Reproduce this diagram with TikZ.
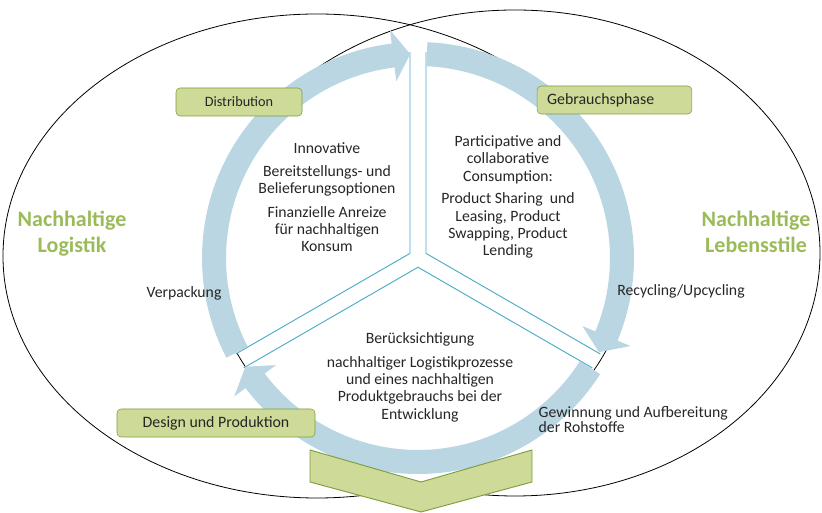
\documentclass[tikz,border=0pt]{standalone}
\usepackage{fontspec}
\setmainfont{Carlito}
\usepackage{xcolor}
\usetikzlibrary{calc}
\usetikzlibrary{positioning}

\definecolor{ringblue}{HTML}{B9D6E2}
\definecolor{sectorline}{HTML}{4BACC6}
\definecolor{boxgreen}{HTML}{CDDA98}
\definecolor{boxborder}{HTML}{7F9C3F}
\definecolor{titlegreen}{HTML}{9BBB59}
\definecolor{textgray}{HTML}{262626}

\tikzset{
	phase/.style={draw=boxborder,fill=boxgreen,rounded corners=3pt,minimum height=21pt,inner sep=0pt,font=\fontsize{11.9}{13}\selectfont,text=textgray},
	sectortext/.style={align=center,font=\fontsize{11.8}{13}\selectfont,text=textgray},
	sidelabel/.style={font=\fontsize{11.8}{11.4}\selectfont,text=textgray},
	bigtitle/.style={align=center,font=\fontsize{16.5}{19.5}\selectfont\bfseries,text=titlegreen},
	sector/.style={draw=sectorline,fill=white,line width=0.7pt},
}

\begin{document}
\begin{tikzpicture}[x=0.75pt,y=0.75pt]
	\useasboundingbox (0,0) rectangle (822,513);
	\coordinate (c) at (418,255);
	
	% the two fields
	\draw[line width=0.6pt] (317,257) ellipse [x radius=314,y radius=242];
	\draw[line width=0.6pt] (515,260) ellipse [x radius=305,y radius=243];
	
	% three sectors
	\begin{scope}
		\clip (c) circle [radius=206];
		\coordinate (l) at ($(c)+(150:9.24)$);
		\coordinate (r) at ($(c)+(30:9.24)$);
		\coordinate (b) at ($(c)+(270:9.24)$);
		\filldraw[sector] (l) -- ($(l)+(90:300)$) -- ($(l)+(150:300)$) -- ($(l)+(210:300)$) -- cycle;
		\filldraw[sector] (r) -- ($(r)+(90:300)$) -- ($(r)+(30:300)$) -- ($(r)+(-30:300)$) -- cycle;
		\filldraw[sector] (b) -- ($(b)+(210:300)$) -- ($(b)+(270:300)$) -- ($(b)+(330:300)$) -- cycle;
	\end{scope}
	
	% ring arrows
	\fill[ringblue] ($(c)+(207.5:216)$) arc[start angle=207.5,end angle=97,radius=216] -- ($(c)+(97:230)$) -- ($(c)+(92.2:204)$) -- ($(c)+(97:178)$) -- ($(c)+(97:192)$) arc[start angle=97,end angle=207.5,radius=192] -- cycle;
	\fill[ringblue] ($(c)+(87.5:216)$) arc[start angle=87.5,end angle=-22.5,radius=216] -- ($(c)+(-22.5:230)$) -- ($(c)+(-27.5:204)$) -- ($(c)+(-22.5:178)$) -- ($(c)+(-22.5:192)$) arc[start angle=-22.5,end angle=87.5,radius=192] -- cycle;
	\fill[ringblue] ($(c)+(327.5:216)$) arc[start angle=327.5,end angle=217,radius=216] -- ($(c)+(217:230)$) -- ($(c)+(212.2:204)$) -- ($(c)+(217:178)$) -- ($(c)+(217:192)$) arc[start angle=217,end angle=327.5,radius=192] -- cycle;
	
	\draw[boxborder,fill=boxgreen,line width=0.7pt] (310,63) -- (421,31) -- (532,63) -- (532,31) -- (421,1) -- (310,31) -- cycle;
	
	\node[phase,minimum width=94.5pt,font=\fontsize{10.7}{13}\selectfont] (distribution) at (239,411) {Distribution};
	\node[phase,minimum width=116pt,text width=101pt,inner xsep=7.5pt,align=left] (gebrauch) at (614.5,413) {Gebrauchsphase};
	\node[phase,minimum width=148.5pt] (design) at (216,90) {Design und Produktion};
	
	\node[sectortext] (distrtext) at (327,316) {Innovative\\[4.5pt]Bereitstellungs- und\\Belieferungsoptionen\\[4.5pt]Finanzielle Anreize\\für nachhaltigen\\Konsum};
	\node[sectortext] (gebrauchtext) at (508,316) {Participative and\\collaborative\\Consumption:\\[4pt]Product Sharing~ und\\Leasing, Product\\Swapping, Product\\Lending};
	\node[sectortext] (designtext) at (420,135.5) {Berücksichtigung\\[4.5pt]nachhaltiger Logistikprozesse\\und eines nachhaltigen\\Produktgebrauchs bei der\\Entwicklung};
	
	\node[bigtitle] (logistik) at (72,279) {Nachhaltige\\Logistik};
	\node[bigtitle] (lebensstile) at (756,281) {Nachhaltige\\Lebensstile};
	
	\node[sidelabel] (verpackung) at (184,220) {Verpackung};
	\node[sidelabel] (recycling) at (681,222) {Recycling/Upcycling};
	\node[sidelabel,align=left,anchor=west] (rohstoffe) at (534,93.5) {Gewinnung und Aufbereitung\\der Rohstoffe};
	
\end{tikzpicture}
\end{document}
